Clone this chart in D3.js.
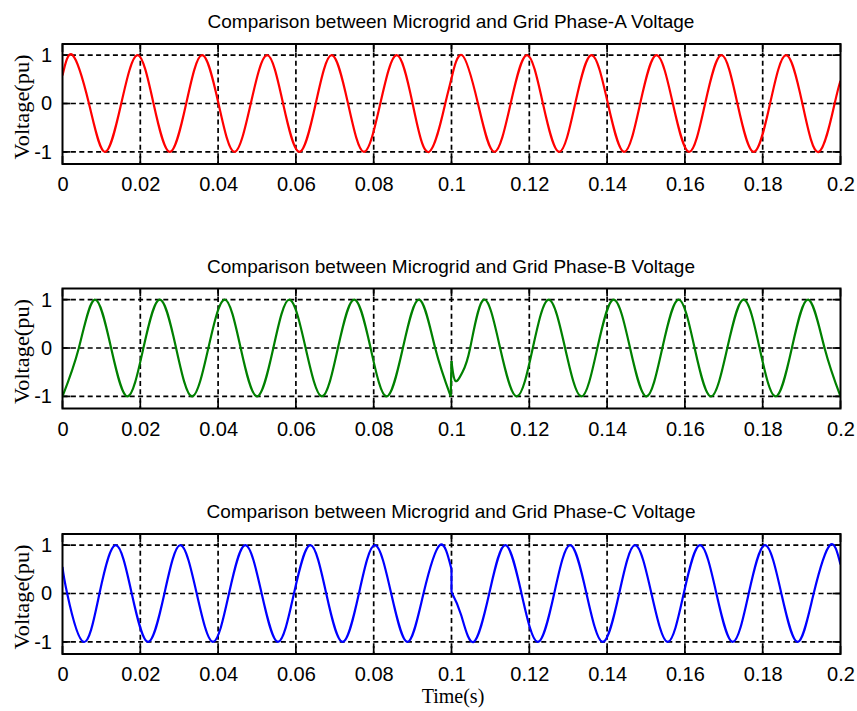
<!DOCTYPE html>
<html>
<head>
<meta charset="utf-8">
<script src="https://cdn.jsdelivr.net/npm/d3@7"></script>
<style>
  body { margin: 0; background: #fff; }
  svg { display: block; }
</style>
</head>
<body>
<svg class="chart"></svg>
<script>
const size = { w: 857, h: 711 };

// axis ticks and labels
const xTicks = [0, 0.02, 0.04, 0.06, 0.08, 0.1, 0.12, 0.14, 0.16, 0.18, 0.2];
const xTickLabels = ["0", "0.02", "0.04", "0.06", "0.08", "0.1", "0.12", "0.14", "0.16", "0.18", "0.2"];
const yTicks = [-1, 0, 1];
const yTickLabels = ["-1", "0", "1"];

const titles = [
	"Comparison between Microgrid and Grid Phase-A Voltage",
	"Comparison between Microgrid and Grid Phase-B Voltage",
	"Comparison between Microgrid and Grid Phase-C Voltage",
];
const yLabel = "Voltage(pu)";
const xLabel = "Time(s)";

// points: [time (s), voltage (pu)]
// peaks, zero crossings and troughs, plus the switching instant at 0.1 s
const phaseA = [
	[0, 0.58], [0.0026, 1], [0.0068, 0], [0.0109, -1], [0.0151, 0],
	[0.0193, 1], [0.0234, 0], [0.0276, -1], [0.0318, 0],
	[0.0359, 1], [0.0401, 0], [0.0442, -1], [0.0484, 0],
	[0.0526, 1], [0.0567, 0], [0.0609, -1], [0.0651, 0],
	[0.0692, 1], [0.0734, 0], [0.0775, -1], [0.0817, 0],
	[0.0859, 1], [0.09, 0], [0.0942, -1], [0.0984, 0], [0.1, 0.52],
	[0.1027, 1], [0.1068, 0], [0.111, -1], [0.1152, 0],
	[0.1194, 1], [0.1235, 0], [0.1277, -1], [0.1318, 0],
	[0.136, 1], [0.1402, 0], [0.1444, -1], [0.1485, 0],
	[0.1527, 1], [0.1569, 0], [0.1611, -1], [0.1652, 0],
	[0.1694, 1], [0.1735, 0], [0.1777, -1], [0.1819, 0],
	[0.186, 1], [0.1902, 0], [0.1944, -1], [0.1985, 0], [0.2, 0.47],
];

// phase B before, at and after the jump at 0.1 s
const phaseB1 = [
	[0, -1], [0.0042, 0], [0.0083, 1], [0.0125, 0],
	[0.0167, -1], [0.0208, 0], [0.025, 1], [0.0292, 0],
	[0.0333, -1], [0.0375, 0], [0.0417, 1], [0.0458, 0],
	[0.05, -1], [0.0542, 0], [0.0583, 1], [0.0625, 0],
	[0.0667, -1], [0.0708, 0], [0.075, 1], [0.0792, 0],
	[0.0833, -1], [0.0875, 0], [0.0917, 1], [0.0958, 0], [0.0998, -1],
];
const phaseBJump = [[0.0998, -1], [0.1, -0.27]];
const phaseB2 = [
	[0.1, -0.27], [0.101, -0.68], [0.1028, -0.5], [0.1048, 0],
	[0.1083, 1], [0.1125, 0], [0.1168, -1], [0.1209, 0],
	[0.125, 1], [0.1292, 0], [0.1334, -1], [0.1375, 0],
	[0.1417, 1], [0.1459, 0], [0.1501, -1], [0.1542, 0],
	[0.1584, 1], [0.1625, 0], [0.1667, -1], [0.1709, 0],
	[0.1751, 1], [0.1792, 0], [0.1833, -1], [0.1875, 0],
	[0.1917, 1], [0.1959, 0], [0.2, -1],
];

// phase C before, at and after the jump at 0.1 s
const phaseC1 = [
	[0, 0.55], [0.0012, 0], [0.0054, -1], [0.0095, 0],
	[0.0137, 1], [0.0178, 0], [0.022, -1], [0.0262, 0],
	[0.0303, 1], [0.0345, 0], [0.0387, -1], [0.0428, 0],
	[0.047, 1], [0.0512, 0], [0.0554, -1], [0.0595, 0],
	[0.0637, 1], [0.0678, 0], [0.072, -1], [0.0762, 0],
	[0.0803, 1], [0.0845, 0], [0.0887, -1], [0.0928, 0],
	[0.097, 1], [0.1, 0.5],
];
const phaseCJump = [[0.1, 0.5], [0.1, 0.03]];
const phaseC2 = [
	[0.1, 0.03], [0.1025, -0.45], [0.1057, -1], [0.1097, 0],
	[0.1138, 1], [0.118, 0], [0.1222, -1], [0.1264, 0],
	[0.1305, 1], [0.1347, 0], [0.1389, -1], [0.1431, 0],
	[0.1472, 1], [0.1514, 0], [0.1556, -1], [0.1597, 0],
	[0.1639, 1], [0.1681, 0], [0.1723, -1], [0.1764, 0],
	[0.1806, 1], [0.1848, 0], [0.189, -1], [0.1931, 0],
	[0.1973, 1], [0.2, 0.6],
];

const colors = ["#ff0000", "#008000", "#0000ff"];
const panelSegments = [
	[phaseA],
	[phaseB1, phaseBJump, phaseB2],
	[phaseC1, phaseCJump, phaseC2],
];

// layout of the three axes
const plot = { left: 62.5, right: 840.5, height: 120 };
const tops = [44, 288.5, 534];
const sansFont = "'Liberation Sans', Arial, sans-serif";
const serifFont = "'Liberation Serif', 'Times New Roman', serif";

const svg = d3.select("svg.chart").attr("width", size.w).attr("height", size.h);
svg.append("rect").attr("width", size.w).attr("height", size.h).attr("fill", "#fff");

const x = d3.scaleLinear().domain([0, 0.2]).range([plot.left, plot.right]);

function drawPanel(i) {
	const g = svg.append("g").attr("transform", `translate(0,${tops[i]})`);
	const y = d3.scaleLinear().domain([-1.25, 1.23]).range([plot.height, 0]);

	g.append("clipPath")
		.attr("id", "clip" + i)
		.append("rect")
		.attr("x", plot.left)
		.attr("y", 0)
		.attr("width", plot.right - plot.left)
		.attr("height", plot.height);

	// dashed grid
	g.selectAll("line.vgrid")
		.data(xTicks.slice(1, -1))
		.join("line")
		.attr("class", "vgrid")
		.attr("x1", (d) => x(d))
		.attr("x2", (d) => x(d))
		.attr("y1", 0)
		.attr("y2", plot.height);
	g.selectAll("line.hgrid")
		.data(yTicks)
		.join("line")
		.attr("class", "hgrid")
		.attr("x1", plot.left)
		.attr("x2", plot.right)
		.attr("y1", (d) => y(d))
		.attr("y2", (d) => y(d));
	g.selectAll("line.vgrid, line.hgrid")
		.attr("stroke", "#000")
		.attr("stroke-width", 1.7)
		.attr("stroke-dasharray", "5,3.4");

	// inward tick marks, matlab style
	const tickLen = 8;
	const tickG = g.append("g").attr("stroke", "#000").attr("stroke-width", 1.7);
	xTicks.forEach((t) => {
		tickG.append("line").attr("x1", x(t)).attr("x2", x(t)).attr("y1", plot.height).attr("y2", plot.height - tickLen);
		tickG.append("line").attr("x1", x(t)).attr("x2", x(t)).attr("y1", 0).attr("y2", tickLen);
	});
	yTicks.forEach((v) => {
		tickG.append("line").attr("x1", plot.left).attr("x2", plot.left + tickLen).attr("y1", y(v)).attr("y2", y(v));
		tickG.append("line").attr("x1", plot.right).attr("x2", plot.right - tickLen).attr("y1", y(v)).attr("y2", y(v));
	});

	// the voltage trace
	const lineFn = d3
		.line()
		.x((d) => x(d[0]))
		.y((d) => y(d[1]))
		.curve(d3.curveNatural);
	g.append("g")
		.attr("clip-path", `url(#clip${i})`)
		.selectAll("path")
		.data(panelSegments[i])
		.join("path")
		.attr("d", (d) => lineFn(d))
		.attr("fill", "none")
		.attr("stroke", colors[i])
		.attr("stroke-width", 2.2)
		.attr("stroke-linejoin", "round");

	// box
	g.append("rect")
		.attr("x", plot.left)
		.attr("y", 0)
		.attr("width", plot.right - plot.left)
		.attr("height", plot.height)
		.attr("fill", "none")
		.attr("stroke", "#000")
		.attr("stroke-width", 2);

	// axes (labels only, ticks drawn above)
	const xAxis = d3
		.axisBottom(x)
		.tickValues(xTicks)
		.tickFormat((d, k) => xTickLabels[k])
		.tickSize(0)
		.tickPadding(13);
	const xg = g.append("g").attr("transform", `translate(0,${plot.height})`).call(xAxis);

	const yAxis = d3
		.axisLeft(y)
		.tickValues(yTicks)
		.tickFormat((d, k) => yTickLabels[k])
		.tickSize(0)
		.tickPadding(10.5);
	const yg = g.append("g").attr("transform", `translate(${plot.left},0)`).call(yAxis);

	[xg, yg].forEach((a) => {
		a.select(".domain").remove();
		a.selectAll("text").attr("font-family", sansFont).attr("font-size", 20).attr("fill", "#000");
	});

	// title
	g.append("text")
		.attr("x", 451)
		.attr("y", -16)
		.attr("text-anchor", "middle")
		.attr("font-family", sansFont)
		.attr("font-size", 19)
		.text(titles[i]);

	// y label
	g.append("text")
		.attr("transform", `translate(29,${plot.height / 2 + 3}) rotate(-90)`)
		.attr("text-anchor", "middle")
		.attr("font-family", serifFont)
		.attr("font-size", 20)
		.attr("textLength", 105)
		.attr("lengthAdjust", "spacingAndGlyphs")
		.text(yLabel);
}

[0, 1, 2].forEach(drawPanel);

svg.append("text")
	.attr("x", 453)
	.attr("y", 703)
	.attr("text-anchor", "middle")
	.attr("font-family", serifFont)
	.attr("font-size", 20)
	.text(xLabel);
</script>
</body>
</html>
